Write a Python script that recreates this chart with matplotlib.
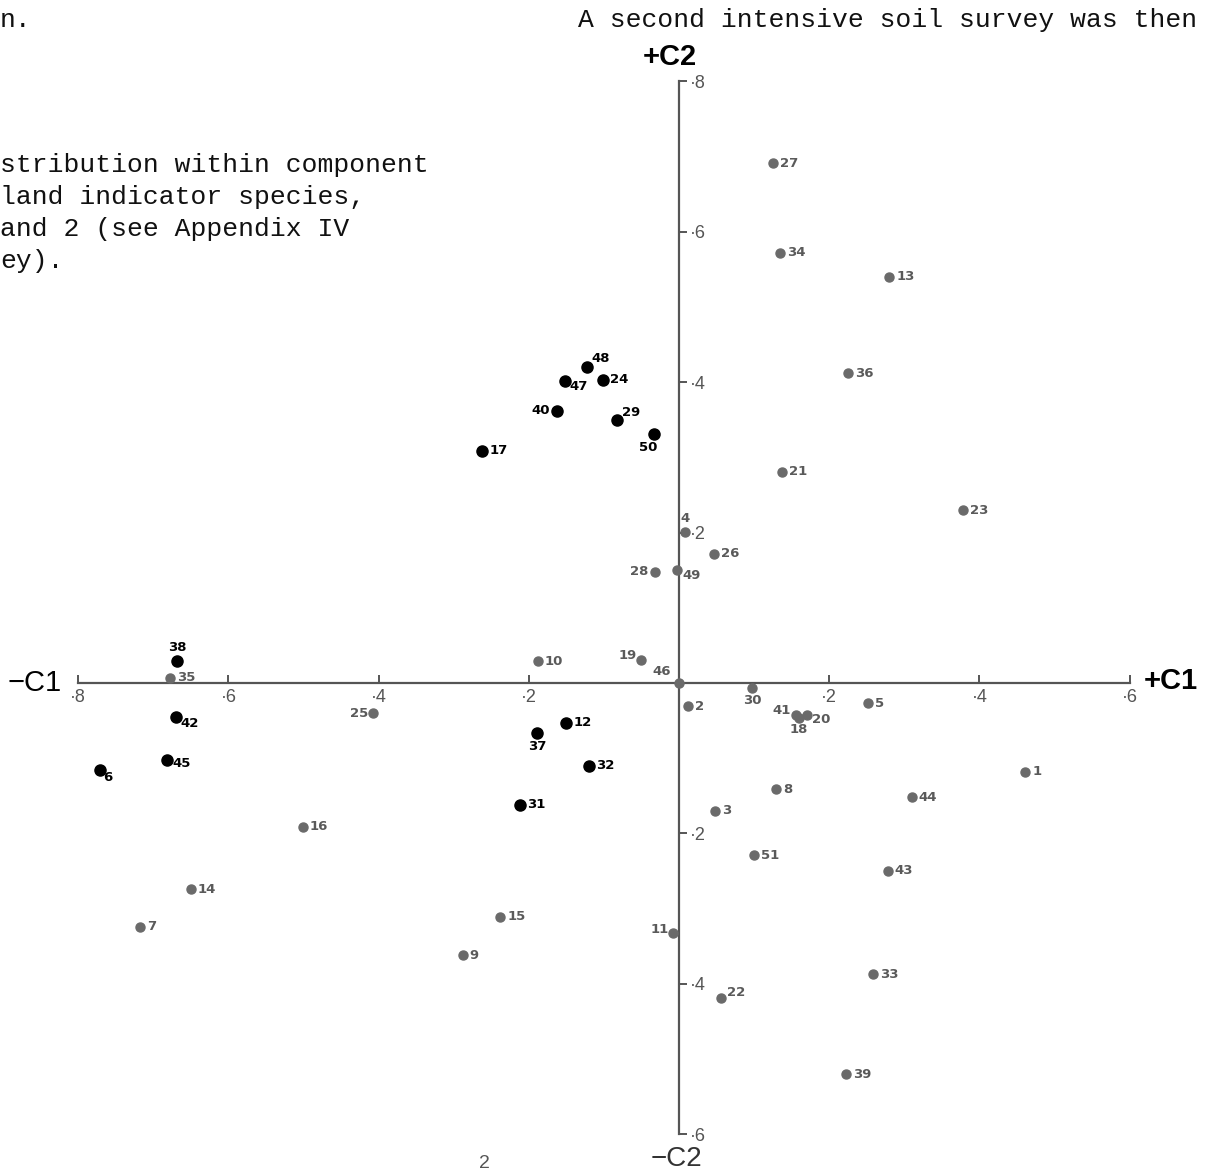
import matplotlib
matplotlib.use("Agg")
import matplotlib.pyplot as plt

# ---- data (component scores C1, C2) ----
black_ids = ["48", "47", "24", "40", "29", "50", "17", "38", "42", "45", "6", "37", "12", "32", "31"]
black_c1 = [-0.122, -0.152, -0.101, -0.162, -0.083, -0.033, -0.262, -0.668, -0.670, -0.682, -0.771, -0.189, -0.150, -0.120, -0.212]
black_c2 = [0.420, 0.402, 0.403, 0.362, 0.350, 0.331, 0.309, 0.029, -0.045, -0.102, -0.116, -0.066, -0.053, -0.110, -0.162]

grey_ids = ["27", "34", "13", "36", "21", "23", "4", "26", "28", "49", "19", "46", "10", "35", "25",
            "2", "30", "41", "18", "20", "5", "1", "44", "8", "3", "51", "43", "16", "14", "7",
            "15", "9", "11", "33", "22", "39"]
grey_c1 = [0.125, 0.134, 0.280, 0.225, 0.137, 0.378, 0.008, 0.047, -0.032, -0.003, -0.051, 0.000, -0.188, -0.678, -0.407,
           0.012, 0.097, 0.156, 0.160, 0.170, 0.252, 0.461, 0.310, 0.129, 0.048, 0.100, 0.278, -0.501, -0.650, -0.718,
           -0.238, -0.288, -0.008, 0.258, 0.056, 0.222]
grey_c2 = [0.691, 0.572, 0.540, 0.412, 0.281, 0.230, 0.201, 0.172, 0.148, 0.150, 0.031, 0.000, 0.029, 0.007, -0.040,
           -0.031, -0.007, -0.042, -0.046, -0.043, -0.027, -0.118, -0.152, -0.141, -0.170, -0.229, -0.250, -0.191, -0.274, -0.324,
           -0.311, -0.362, -0.332, -0.387, -0.419, -0.520]

tick_vals = [-0.8, -0.6, -0.4, -0.2, 0.2, 0.4, 0.6]
tick_text = ["·8", "·6", "·4", "·2", "·2", "·4", "·6"]
ytick_vals = [-0.6, -0.4, -0.2, 0.2, 0.4, 0.6, 0.8]
ytick_text = ["·6", "·4", "·2", "·2", "·4", "·6", "·8"]

# label placement style: (dx pt, dy pt, ha, va)
label_style = {
    "40": (-5, 0, "right", "center"), "28": (-5, 0, "right", "center"),
    "25": (-4, 0, "right", "center"), "11": (-3, 2, "right", "center"),
    "41": (-4, 3, "right", "center"), "19": (-3, 3, "right", "center"),
    "46": (-6, 8, "right", "center"), "4": (0, 5, "center", "bottom"),
    "30": (0, -4, "center", "top"), "18": (0, -4, "center", "top"),
    "20": (4, -3, "left", "center"), "38": (0, 5, "center", "bottom"),
    "37": (0, -5, "center", "top"), "50": (-4, -5, "center", "top"),
    "6": (2, -5, "left", "center"), "42": (3, -5, "left", "center"),
    "45": (4, -3, "left", "center"), "47": (3, -4, "left", "center"),
    "48": (3, 6, "left", "center"), "29": (4, 5, "left", "center"),
    "22": (4, 4, "left", "center"), "49": (4, -4, "left", "center"),
}
default_style = (5, 0, "left", "center")

W, H = 1216, 1172
fig = plt.figure(figsize=(W / 100, H / 100), dpi=100)
ax = fig.add_axes([0, 0, 1, 1])
ax.set_xlim(-679 / 751, (W - 679) / 751)
ax.set_ylim(-(H - 683) / 752, 683 / 752)

ax.spines["top"].set_visible(False)
ax.spines["left"].set_visible(False)
for s in ("bottom", "right"):
    ax.spines[s].set_position(("data", 0))
    ax.spines[s].set_color("#555555")
    ax.spines[s].set_linewidth(1.6)
ax.spines["bottom"].set_bounds(-0.8, 0.6)
ax.spines["right"].set_bounds(-0.6, 0.8)

ax.xaxis.tick_bottom()
ax.yaxis.tick_right()
ax.set_xticks(tick_vals)
ax.set_xticklabels(tick_text)
ax.set_yticks(ytick_vals)
ax.set_yticklabels(ytick_text)
ax.tick_params(axis="x", direction="in", length=6, width=1.4, color="#555555",
               labelsize=13, labelcolor="#555555", pad=4)
ax.tick_params(axis="y", direction="out", length=6, width=1.4, color="#555555",
               labelsize=13, labelcolor="#555555", pad=2)
for lab in ax.get_xticklabels() + ax.get_yticklabels():
    lab.set_family("Liberation Sans")

# points
ax.plot(grey_c1, grey_c2, "o", color="#6a6a6a", markersize=6.5, zorder=3, clip_on=False)
ax.plot(black_c1, black_c2, "o", color="black", markersize=8, zorder=4, clip_on=False)

def put_labels(ids, xs, ys, color):
    for i, x, y in zip(ids, xs, ys):
        dx, dy, ha, va = label_style.get(i, default_style)
        ax.annotate(i, (x, y), xytext=(dx, dy), textcoords="offset points",
                    ha=ha, va=va, fontsize=9.5, fontweight="bold", color=color,
                    family="DejaVu Sans", zorder=5)

put_labels(grey_ids, grey_c1, grey_c2, "#5a5a5a")
put_labels(black_ids, black_c1, black_c2, "black")

# axis end labels
def ftxt(px, py, s, **kw):
    fig.text(px / W, 1 - py / H, s, **kw)

ftxt(670, 57, "+C2", ha="center", va="center", fontsize=21, fontweight="bold", family="Liberation Sans")
ftxt(676, 1146, "−C2", ha="center", va="top", fontsize=20, family="Liberation Sans", color="#333333")
ftxt(8, 683, "−C1", ha="left", va="center", fontsize=21, family="Liberation Sans")
ftxt(1144, 681, "+C1", ha="left", va="center", fontsize=21, fontweight="bold", family="Liberation Sans")

# surrounding page text
mono = dict(family="Liberation Mono", fontsize=19, va="center", ha="left", color="#111111")
ftxt(0, 20, "n.", **mono)
ftxt(578, 20, "A second intensive soil survey was then", **mono)
ftxt(0, 165, "stribution within component", **mono)
ftxt(0, 197, "land indicator species,", **mono)
ftxt(0, 229, "and 2 (see Appendix IV", **mono)
ftxt(0, 261, "ey).", **mono)
ftxt(484, 1163, "2", ha="center", va="center", fontsize=14, color="#555555", family="Liberation Sans")

fig.savefig("out.png", dpi=100)
